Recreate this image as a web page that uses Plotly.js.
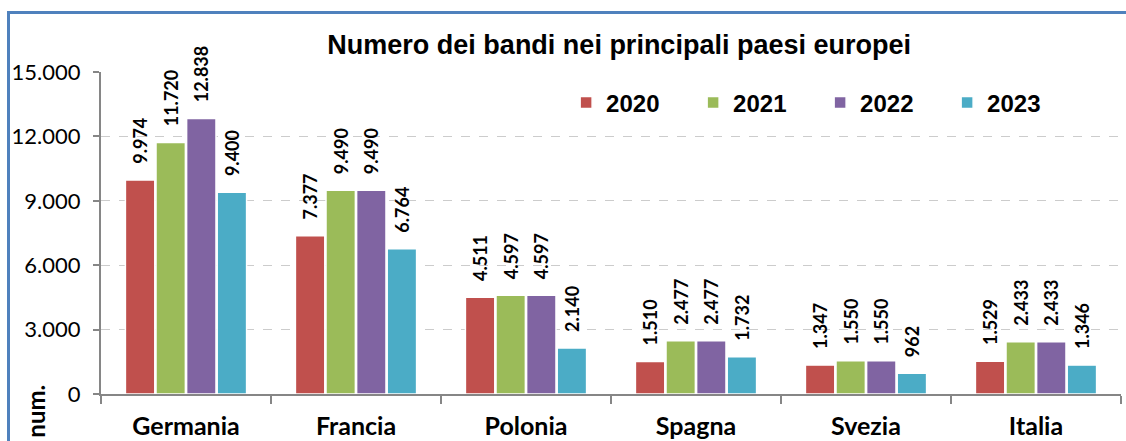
<!DOCTYPE html>
<html>
<head>
<meta charset="utf-8">
<script src="https://cdn.plot.ly/plotly-3.0.1.min.js"></script>
<style>
    body { margin: 0; background: #ffffff; overflow: hidden; }
    #chart { width: 1126px; height: 441px; }
    #frame {
        position: absolute; left: 7px; top: 11px; width: 1140px; height: 460px;
        border-top: 3px solid #4f81bd; border-left: 3px solid #4f81bd;
        pointer-events: none;
    }
</style>
</head>
<body>
<div id="chart"></div>
<div id="frame"></div>
<script>
// data
var paesi = ["Germania", "Francia", "Polonia", "Spagna", "Svezia", "Italia"];
var anni = ["2020", "2021", "2022", "2023"];
var bandi2020 = [9974, 7377, 4511, 1510, 1347, 1529];
var bandi2021 = [11720, 9490, 4597, 2477, 1550, 2433];
var bandi2022 = [12838, 9490, 4597, 2477, 1550, 2433];
var bandi2023 = [9400, 6764, 2140, 1732, 962, 1346];
var colori = ["#c0504d", "#9bbb59", "#8064a2", "#4bacc6"];

function formatIt(v) {
    // thousands with a dot, as in the original
    return String(v).replace(/\B(?=(\d{3})+(?!\d))/g, ".");
}

function makeTrace(name, values, color) {
    return {
        type: "bar",
        name: name,
        x: paesi,
        y: values,
        text: values.map((v) => "\u00a0\u00a0\u00a0" + formatIt(v)),
        textposition: "outside",
        textangle: -90,
        constraintext: "none",
        cliponaxis: false,
        textfont: {family: "Lato", size: 18, weight: "bold", color: "#000000"},
        marker: {color: color, line: {color: "#ffffff", width: 1.5}},
        hoverinfo: "skip"
    };
}

var traces = [
    makeTrace(anni[0], bandi2020, colori[0]),
    makeTrace(anni[1], bandi2021, colori[1]),
    makeTrace(anni[2], bandi2022, colori[2]),
    makeTrace(anni[3], bandi2023, colori[3])
];

var layout = {
    width: 1126,
    height: 441,
    margin: {l: 101, r: 5, t: 72, b: 47},
    paper_bgcolor: "#ffffff",
    plot_bgcolor: "#ffffff",
    separators: ",.",
    barmode: "group",
    bargap: 0.28,
    bargroupgap: 0.04,
    title: {
        text: "Numero dei bandi nei principali paesi europei",
        font: {family: "Liberation Sans", size: 27, weight: "bold", color: "#000000"},
        xref: "paper", x: 0.508, xanchor: "center",
        yref: "container", y: 0.898, yanchor: "middle"
    },
    showlegend: true,
    legend: {
        orientation: "h",
        x: 0.456, xanchor: "left",
        y: 0.904, yanchor: "middle",
        entrywidth: 82,
        bgcolor: "rgba(0,0,0,0)",
        font: {family: "Liberation Sans", size: 24, weight: "bold", color: "#000000"}
    },
    xaxis: {
        type: "category",
        showline: true, linecolor: "#868686", linewidth: 2,
        ticks: "outside", tickson: "boundaries", ticklen: 8, tickcolor: "#868686", tickwidth: 2,
        ticklabelstandoff: 9,
        tickfont: {family: "Lato", size: 25, weight: "bold", color: "#000000"},
        showgrid: false, zeroline: false
    },
    yaxis: {
        range: [0, 15000],
        dtick: 3000,
        tickformat: ",",
        showline: true, linecolor: "#868686", linewidth: 2,
        ticks: "outside", ticklen: 6, tickcolor: "#868686", tickwidth: 2,
        ticklabelstandoff: 8,
        tickfont: {family: "Lato", size: 22, color: "#000000"},
        showgrid: true, gridcolor: "#cccccc", griddash: "dash", gridwidth: 1,
        zeroline: false
    },
    annotations: [{
        text: "num.",
        textangle: -90,
        xref: "paper", x: -0.064, xanchor: "center",
        yref: "paper", y: 0.036, yanchor: "top",
        showarrow: false,
        font: {family: "Lato", size: 24, weight: "bold", color: "#000000"}
    }]
};

var config = {staticPlot: true, displayModeBar: false, responsive: false};

Plotly.newPlot("chart", traces, layout, config);
</script>
</body>
</html>
